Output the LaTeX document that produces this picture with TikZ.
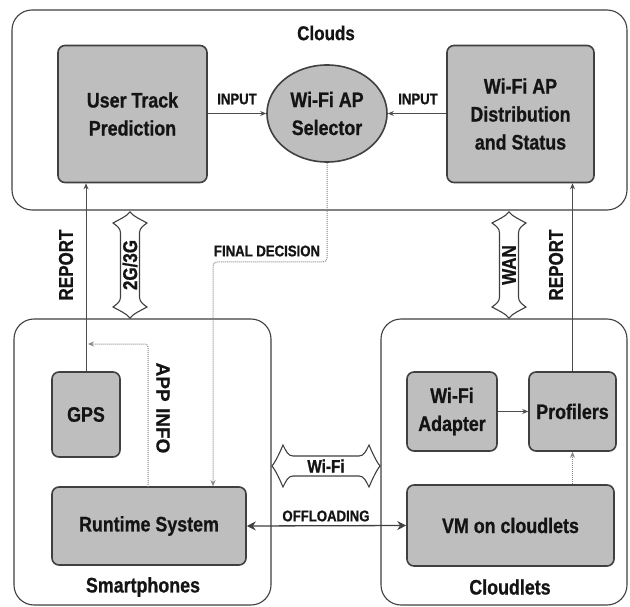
\documentclass[tikz,border=0pt]{standalone}
\usepackage{fontspec}
\setmainfont{Liberation Sans}[FakeStretch=0.85, BoldFeatures={FakeBold=0.8}]
\newfontfamily\widefont{Liberation Sans}[BoldFeatures={FakeBold=0.5}]
\usetikzlibrary{arrows.meta,shapes.geometric}
\definecolor{boxgray}{HTML}{BEBEBE}
\definecolor{edgegray}{HTML}{404040}
\definecolor{linkgray}{HTML}{4C4C4C}
\definecolor{dotgray}{HTML}{858585}
\definecolor{txt}{HTML}{141414}
\begin{document}
\begin{tikzpicture}[x=1pt,y=-1pt,
  region/.style={draw=edgegray, line width=1.1pt, rounded corners=20pt},
  unit/.style={draw=edgegray, fill=boxgray, line width=1.6pt, rounded corners=7pt,
    align=center, inner sep=0pt, text=txt,
    font=\fontsize{21}{28}\selectfont\bfseries},
  title/.style={font=\fontsize{21}{23}\selectfont\bfseries, text=txt, inner sep=0pt},
  lbl/.style={font=\fontsize{15.5}{17}\selectfont\bfseries, text=txt, inner sep=0pt},
  biglbl/.style={font=\fontsize{20}{22}\selectfont\bfseries, text=txt, inner sep=0pt},
  solidarrow/.style={draw=linkgray, line width=0.9pt, -{Stealth[length=6pt,width=5pt]}},
  dotarrow/.style={draw=dotgray, line width=1pt, densely dotted, -{Stealth[length=6pt,width=5pt]}},
  twoway/.style={draw=edgegray, line width=1.3pt, {Stealth[length=9pt,width=9pt]}-{Stealth[length=9pt,width=9pt]}},
  linkshape/.style={draw=edgegray, fill=white, line width=1.1pt}
]
\useasboundingbox (0,0) rectangle (630,607);
\fill[white] (0,0) rectangle (630,607);

% regions
\draw[region] (12,10) rectangle (627,210);
\draw[region] (14,319) rectangle (271,605);
\draw[region] (381,319) rectangle (627,605);
\node[title, font=\fontsize{20}{22}\selectfont\bfseries] (cloudsT) at (326,33) {Clouds};
\node[title] (phonesT) at (143,587) {Smartphones};
\node[title] (cletsT) at (510,587) {Cloudlets};

% cloud services
\node[unit, minimum width=149pt, minimum height=137pt] (utp) at (132.5,114) {User Track\\Prediction};
\node[unit, minimum width=147pt, minimum height=137pt] (dist) at (520.5,114) {Wi-Fi AP\\Distribution\\and Status};
\node[ellipse, draw=edgegray, fill=boxgray, line width=1.6pt, minimum width=120pt, minimum height=97pt,
  inner sep=0pt, align=center, text=txt, font=\fontsize{21}{28}\selectfont\bfseries] (sel) at (327,113.5) {Wi-Fi AP\\Selector};

% smartphone side
\node[unit, minimum width=68pt, minimum height=85pt] (gps) at (86,414.5) {GPS};
\node[unit, minimum width=194pt, minimum height=78pt] (rt) at (149,526) {Runtime System};

% cloudlet side
\node[unit, minimum width=90pt, minimum height=79pt] (wfa) at (452,411.5) {Wi-Fi\\Adapter};
\node[unit, minimum width=87pt, minimum height=79pt] (prof) at (572.5,411.5) {Profilers};
\node[unit, minimum width=207pt, minimum height=81pt] (vm) at (510.5,525.5) {VM on cloudlets};

% inputs to the selector
\draw[solidarrow] (utp.east |- sel.center) -- (sel.west);
\draw[solidarrow] (dist.west |- sel.center) -- (sel.east);
\node[lbl] (in1) at (237,99) {INPUT};
\node[lbl] (in2) at (418,99) {INPUT};

% reports
\draw[solidarrow] (gps.north) -- (gps.north |- utp.south);
\draw[solidarrow] (prof.north) -- (prof.north |- dist.south);
\node[biglbl, rotate=90] (rep1) at (66,265) {REPORT};
\node[biglbl, rotate=90] (rep2) at (556,265) {REPORT};

% app info
\coordinate (appsrc) at (148,487);
\coordinate (appdst) at (88,344);
\draw[dotarrow, rounded corners=3pt] (appsrc) |- (appdst);
\node[font=\widefont\fontsize{19}{21}\selectfont\bfseries, text=txt, inner sep=0pt, rotate=-90] (appT) at (163,408) {APP\,\,INFO};

% final decision
\coordinate (fdturn) at (213,262);
\draw[dotarrow, rounded corners=4pt] (sel.south) |- (fdturn) -- (fdturn |- rt.north);
\node[lbl] (fdT) at (267,251) {FINAL DECISION};

% offloading
\draw[twoway] (rt.east) -- (vm.west);
\node[lbl] (offT) at (326,516) {OFFLOADING};

% cloudlet internals
\draw[solidarrow] (wfa.east) -- (prof.west);
\draw[dotarrow] (prof.south |- vm.north) -- (prof.south);

% 2G/3G link
\coordinate (gC) at (130,265);
\begin{scope}[shift={(gC)}]
  \draw[linkshape] (0,-53) .. controls (4,-48) and (12,-45) .. (17,-42)
    .. controls (13,-39) and (9.5,-37) .. (9.5,-32) -- (9.5,32)
    .. controls (9.5,37) and (13,39) .. (17,42) .. controls (12,45) and (4,48) .. (0,53)
    .. controls (-4,48) and (-12,45) .. (-17,42) .. controls (-13,39) and (-9.5,37) .. (-9.5,32)
    -- (-9.5,-32) .. controls (-9.5,-37) and (-13,-39) .. (-17,-42)
    .. controls (-12,-45) and (-4,-48) .. cycle;
\end{scope}
\node[font=\fontsize{20}{22}\selectfont\bfseries, text=txt, inner sep=0pt, rotate=90] (gT) at (gC) {2G/3G};

% WAN link
\coordinate (wC) at (509,265);
\begin{scope}[shift={(wC)}]
  \draw[linkshape] (0,-53) .. controls (4,-48) and (12,-45) .. (17,-42)
    .. controls (13,-39) and (9.5,-37) .. (9.5,-32) -- (9.5,32)
    .. controls (9.5,37) and (13,39) .. (17,42) .. controls (12,45) and (4,48) .. (0,53)
    .. controls (-4,48) and (-12,45) .. (-17,42) .. controls (-13,39) and (-9.5,37) .. (-9.5,32)
    -- (-9.5,-32) .. controls (-9.5,-37) and (-13,-39) .. (-17,-42)
    .. controls (-12,-45) and (-4,-48) .. cycle;
\end{scope}
\node[biglbl, rotate=90] (wT) at (wC) {WAN};

% Wi-Fi link
\coordinate (fC) at (326,466);
\begin{scope}[shift={(fC)}]
  \draw[linkshape] (-54,0) .. controls (-50,-5) and (-46,-14) .. (-43,-21)
    .. controls (-40,-15) and (-38,-10) .. (-33,-10) -- (33,-10)
    .. controls (38,-10) and (40,-15) .. (43,-21) .. controls (46,-14) and (50,-5) .. (54,0)
    .. controls (50,5) and (46,14) .. (43,21) .. controls (40,15) and (38,10) .. (33,10)
    -- (-33,10) .. controls (-38,10) and (-40,15) .. (-43,21)
    .. controls (-46,14) and (-50,5) .. cycle;
\end{scope}
\node[font=\fontsize{18}{20}\selectfont\bfseries, text=txt, inner sep=0pt] (fT) at (fC) {Wi-Fi};
\end{tikzpicture}
\end{document}
